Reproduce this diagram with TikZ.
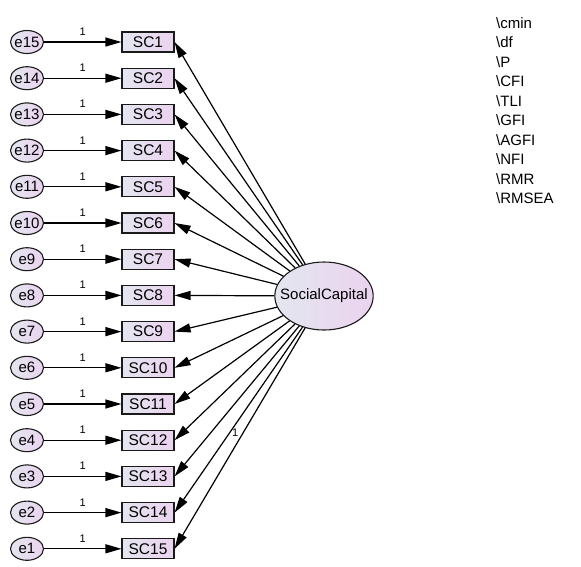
\documentclass[tikz,border=0pt]{standalone}
\usepackage{fontspec}
\setmainfont{Liberation Sans}
\definecolor{lft}{HTML}{E3E6EF}
\definecolor{rgt}{HTML}{EBD3EF}
\definecolor{edge}{HTML}{1A1A1A}
\usetikzlibrary{arrows.meta,shapes.geometric}

\tikzset{
  obs/.style={draw=edge, line width=1.1pt, rectangle, minimum width=52pt, minimum height=20pt,
    inner sep=0pt, left color=lft, right color=rgt, font=\fontsize{15.5}{18}\selectfont},
  err/.style={draw=edge, line width=1.1pt, ellipse, minimum width=33pt, minimum height=23pt,
    inner xsep=-1pt, inner ysep=0pt, left color=lft, right color=rgt, font=\fontsize{15}{18}\selectfont},
  lat/.style={draw=edge, line width=1.1pt, ellipse, minimum width=97pt, minimum height=68pt,
    inner xsep=-9pt, inner ysep=0pt, left color=lft, right color=rgt, font=\fontsize{15}{18}\selectfont},
  reg/.style={line width=1.2pt, -{Triangle[length=16pt,width=9pt]}},
  one/.style={font=\fontsize{11}{12}\selectfont, inner sep=2pt},
  stat/.style={anchor=west, inner sep=0pt, font=\fontsize{15}{18}\selectfont}
}

\begin{document}
\begin{tikzpicture}[x=1pt,y=-1pt]
  \useasboundingbox (0,0) rectangle (581,566);

  % latent variable
  \node[lat] (soc) at (324,296) {SocialCapital};

  % indicators and errors
  \foreach \i [evaluate=\i as \j using int(16-\i)] in {1,...,15} {
    \node[err] (e\j) at (27,{5.8+36.2*\i}) {e\j};
    \node[obs] (sc\i) at (148,{5.8+36.2*\i}) {SC\i};
    \draw[reg] (e\j) -- node[one, midway, above, yshift=4pt] {1} (sc\i);
  }

  \foreach \i in {1,...,14}
    \draw[reg] (soc) -- (sc\i.east);
  \draw[reg] (soc) -- node[one, midway, above left=-1pt] {1} (sc15.east);

  % fit indices
  \foreach \s [count=\k] in {cmin,df,P,CFI,TLI,GFI,AGFI,NFI,RMR,RMSEA}
    \node[stat] (st\k) at (496,{3.5+19.5*\k}) {\textbackslash\s};
\end{tikzpicture}
\end{document}
